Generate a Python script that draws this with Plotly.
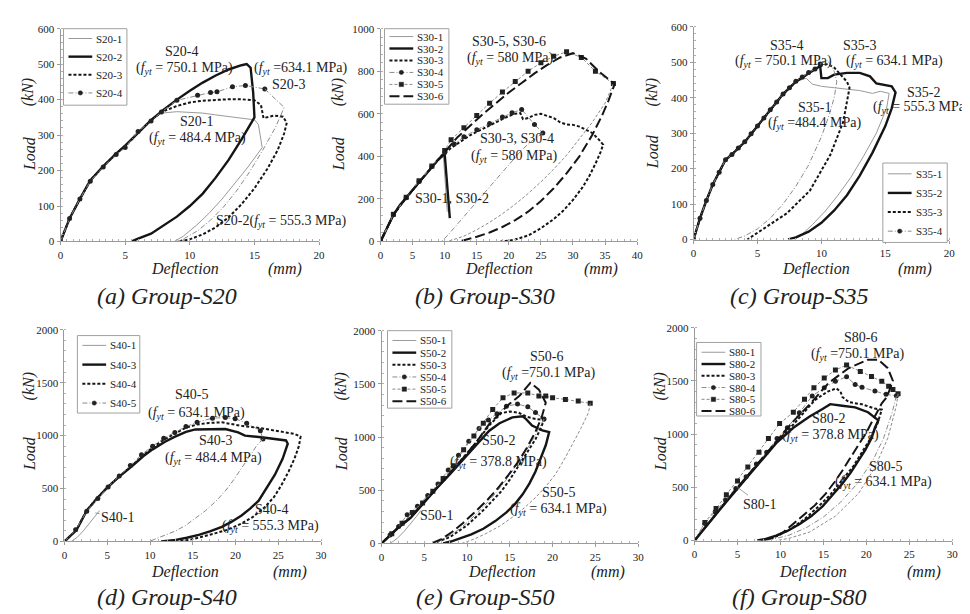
import plotly.graph_objects as go

# ======================= DATA =======================
# ---- (a) Group-S20 ----
S20_1_x = [0, 0.7, 1.5, 2.3, 3.3, 4.3, 5, 6, 7, 7.8, 9, 10, 11, 12, 13, 14, 15, 15.3, 15.6, 14.5, 13.5, 12.5, 11.5, 10.5, 9.5, 8.8]
S20_1_y = [0, 65, 120, 172, 212, 247, 268, 307, 342, 362, 366, 365, 362, 357, 352, 347, 343, 330, 265, 210, 165, 120, 80, 45, 15, 0]
S20_2_x = [0, 0.7, 1.5, 2.3, 3.3, 4.3, 5, 6, 7, 8, 9, 10, 11, 12, 13, 14, 14.4, 14.7, 14.9, 15.0, 14.5, 14, 13, 12, 11, 10, 9, 8, 7, 6, 5.5]
S20_2_y = [0, 65, 120, 172, 212, 248, 270, 307, 342, 372, 400, 425, 448, 468, 485, 497, 500, 490, 420, 350, 318, 288, 230, 180, 135, 100, 70, 45, 22, 8, 0]
S20_3_x = [0, 0.7, 1.5, 2.3, 3.3, 4.3, 5, 6, 7, 7.8, 9, 10, 11, 12, 13, 14, 15, 15.5, 15.7, 16.5, 17.2, 17.5, 17.3, 16.8, 16, 15, 14, 13, 12, 11, 10, 9.2]
S20_3_y = [0, 65, 120, 172, 212, 247, 268, 307, 342, 365, 382, 392, 397, 400, 401, 401, 398, 385, 348, 355, 352, 335, 305, 258, 205, 150, 105, 68, 40, 20, 6, 0]
S20_4_x = [0, 0.7, 1.5, 2.3, 3.3, 4.3, 5, 6, 7, 7.8, 9, 10.6, 11.6, 12.1, 13.3, 14.3, 15.8]
S20_4_y = [0, 65, 120, 170, 210, 245, 265, 310, 340, 365, 398, 412, 420, 422, 436, 440, 430]
S20_4_unload_x = [15.8, 16.7, 17.3, 16.6, 15.6, 14.6, 13.6, 12.6, 11.6, 10.6, 9.6, 9.0]
S20_4_unload_y = [430, 400, 378, 320, 255, 195, 142, 97, 60, 30, 9, 0]

# ---- (b) Group-S30 ----
S30_1_x = [0, 1, 2, 3, 4, 5, 6, 7, 8, 9, 9.8, 10.1, 10.4]
S30_1_y = [0, 65, 125, 168, 203, 243, 278, 313, 348, 382, 400, 290, 140]
S30_2_x = [0, 1, 2, 3, 4, 5, 6, 7, 8, 9, 10, 10.8]
S30_2_y = [0, 65, 125, 170, 205, 245, 280, 315, 350, 385, 412, 110]
S30_3_x = [0, 2, 4, 6, 8, 10, 11, 12, 13, 14, 15, 16, 17, 18, 19, 20, 21, 21.8, 22.2, 23, 24, 25, 26, 27, 28, 29, 30, 31, 32, 33, 34, 34.7,
           34.3, 33.5, 32.5, 31.5, 30, 28.5, 27, 25, 23, 21, 19.5, 18.7]
S30_3_y = [0, 125, 205, 280, 350, 415, 440, 460, 480, 500, 515, 530, 545, 560, 575, 590, 600, 603, 575, 580, 595, 600, 590, 580, 560, 550, 548, 540, 525, 510, 480, 455,
           420, 365, 305, 255, 195, 145, 105, 62, 28, 9, 2, 0]
S30_4_x = [0, 2, 4, 6, 8, 10, 11.5, 13, 15, 17, 19, 20.5, 22, 24, 25.3]
S30_4_y = [0, 125, 205, 282, 352, 418, 458, 492, 525, 555, 585, 605, 620, 550, 510]
S30_4_unload_x = [25.3, 23.5, 22, 20, 18, 16, 14, 12, 10.5, 9.5]
S30_4_unload_y = [510, 470, 430, 360, 290, 220, 150, 80, 30, 0]
S30_5_x = [0, 2, 4, 6, 8, 10, 11, 13, 15, 17, 19, 21, 23, 25, 27, 29, 31.3, 33.5, 36.3]
S30_5_y = [0, 128, 208, 285, 355, 428, 478, 535, 592, 650, 702, 752, 800, 840, 870, 892, 865, 800, 742]
S30_5_unload_x = [36.3, 35, 33, 31, 29, 27, 25, 23, 21, 19, 17, 15, 13, 11, 10.3]
S30_5_unload_y = [742, 650, 560, 480, 405, 340, 280, 225, 175, 130, 90, 55, 25, 5, 0]
S30_6_x = [0, 2, 4, 6, 8, 10, 12, 14, 16, 18, 20, 22, 24, 26, 28, 30, 32, 34, 36.5,
           35.5, 34.5, 33, 31, 29, 27, 25, 23, 21, 19, 17, 15, 13, 12]
S30_6_y = [0, 125, 205, 280, 350, 420, 490, 545, 600, 650, 700, 745, 790, 830, 865, 885, 860, 800, 740,
           660, 590, 500, 400, 320, 250, 190, 140, 100, 68, 42, 22, 6, 0]

# ---- (c) Group-S35 ----
S35_1_x = [0, 0.5, 1, 1.5, 2, 2.5, 3, 4, 5, 6, 7, 8, 8.8, 9.3, 10, 11, 12, 13, 14, 14.6, 15.3,
           15.1, 14.3, 13.3, 12.3, 11.3, 10.3, 9.3, 8.4, 7.9]
S35_1_y = [0, 60, 110, 155, 190, 225, 240, 275, 320, 365, 410, 445, 455, 438, 432, 428, 425, 420, 412, 418, 412,
           370, 300, 235, 175, 125, 80, 42, 12, 0]
S35_2_x = [0, 0.5, 1, 1.5, 2, 2.5, 3, 4, 5, 6, 7, 8, 9, 9.5, 9.9, 10, 10.5, 11, 12, 13, 13.8, 14.3, 15, 15.5, 15.8,
           15.5, 15, 14, 13, 12, 11, 10, 9, 8, 7.4]
S35_2_y = [0, 60, 110, 155, 190, 225, 240, 275, 320, 365, 410, 445, 470, 480, 490, 455, 455, 465, 470, 470, 460, 440, 435, 432, 415,
           370, 320, 245, 180, 125, 82, 47, 22, 6, 0]
S35_3_x = [0, 0.5, 1, 1.5, 2, 2.5, 3, 4, 5, 6, 7, 8, 9, 9.5, 10, 10.5, 11, 11.5, 12, 12.2,
           11.7, 10.7, 9.1, 7.3, 5.75, 4.2]
S35_3_y = [0, 60, 110, 155, 190, 225, 240, 275, 320, 365, 410, 445, 470, 480, 490, 495, 485, 465, 445, 428,
           331, 239, 138, 74, 37, 0]
S35_4_x = [0, 0.5, 1, 1.5, 2, 2.5, 3, 3.5, 4, 4.5, 5, 5.5, 6, 6.5, 7, 7.5, 8, 8.5, 9, 9.5, 9.9]
S35_4_y = [0, 60, 110, 155, 190, 225, 240, 258, 276, 298, 320, 343, 366, 388, 410, 428, 446, 458, 471, 481, 495]
S35_4_unload_x = [9.9, 10.5, 11, 11.2, 11, 10.6, 10, 9, 8, 7, 6, 5, 4, 3.2]
S35_4_unload_y = [495, 505, 475, 445, 400, 350, 290, 210, 150, 100, 60, 30, 10, 0]

# ---- (d) Group-S40 ----
S40_1_x = [0.8, 1.5, 2.2, 2.9, 3.5, 4.1]
S40_1_y = [0, 40, 100, 170, 230, 292]
S40_3_x = [0, 1.4, 2.6, 3.9, 5, 6.4, 7.8, 9.2, 10.3, 11.7, 12.8, 14.2, 15.3, 16.9, 18.8, 20.3, 21.1, 23, 24.6, 25.9, 26.1,
           25.5, 24.6, 23.6, 22.7, 21.7, 20.7, 19.5, 18.4, 17, 15.7, 14.3, 13, 11.3]
S40_3_y = [0, 108, 292, 415, 508, 612, 705, 805, 870, 940, 985, 1035, 1058, 1062, 1062, 1031, 1000, 985, 970, 954, 923,
           780, 631, 500, 385, 310, 246, 185, 138, 95, 62, 35, 15, 0]
S40_4_x = [0, 1.4, 2.6, 3.9, 5, 6.4, 7.8, 9.2, 10.3, 11.7, 12.8, 14.2, 15.5, 16.9, 18.4, 20.7, 23, 24.6, 26.9, 27.6,
           27.4, 26.9, 26.2, 25.4, 24.5, 23.4, 22, 20.7, 19, 17.6, 16, 14.6, 13]
S40_4_y = [0, 110, 295, 418, 510, 616, 710, 815, 890, 965, 1012, 1075, 1105, 1120, 1125, 1092, 1070, 1050, 1015, 990,
           900, 785, 660, 538, 420, 323, 230, 169, 110, 77, 40, 15, 0]
S40_5_x = [0, 1.3, 2.6, 3.9, 5.1, 6.4, 7.7, 9, 10.3, 11.6, 12.9, 14.2, 15.5, 17.3, 18.8, 19.95, 21.3, 22.9, 23.2]
S40_5_y = [0, 110, 285, 405, 515, 618, 718, 820, 900, 975, 1030, 1085, 1125, 1165, 1170, 1160, 1117, 1046, 969]
S40_5_unload_x = [23.2, 22.5, 21.6, 20.7, 19.8, 18.8, 17.7, 16.5, 15.3, 14.2, 13, 11.9, 10.9, 9.9]
S40_5_unload_y = [969, 908, 800, 692, 585, 477, 380, 292, 220, 154, 100, 62, 28, 0]

# ---- (e) Group-S50 ----
S50_1_x = [1, 1.8, 2.6, 3.4, 4.1, 4.6]
S50_1_y = [0, 45, 110, 185, 255, 310]
S50_2_x = [0, 2, 3.4, 4.9, 6.4, 8, 9.5, 11, 12.6, 13.8, 15.3, 16.5, 16.9, 17.6, 18.8, 19.6,
           19.2, 18.6, 18, 17.3, 16.5, 15.6, 14.6, 13.3, 11.9, 10.5, 9.2, 8.1, 7.2]
S50_2_y = [0, 150, 240, 378, 515, 650, 780, 920, 1060, 1130, 1185, 1195, 1169, 1108, 1062, 1046,
           923, 800, 677, 565, 462, 370, 292, 210, 138, 85, 46, 18, 0]
S50_3_x = [0, 2, 3.4, 4.9, 6.4, 8, 9.5, 11.1, 12.6, 14, 15, 16, 17, 18, 19,
           18.6, 18, 17, 16, 15, 14, 12, 10, 8, 6]
S50_3_y = [0, 154, 246, 385, 523, 662, 800, 954, 1110, 1225, 1240, 1230, 1190, 1170, 1160,
           1080, 980, 850, 720, 600, 490, 320, 170, 60, 0]
S50_4_x = [0, 1, 2, 3, 4.2, 5.4, 6.6, 7.8, 9, 10.2, 11.4, 12.5, 13.5, 14.6, 15.9, 17.1, 18, 19]
S50_4_y = [0, 80, 160, 270, 350, 450, 560, 690, 830, 960, 1080, 1160, 1220, 1290, 1310, 1285, 1230, 1169]
S50_4_unload_x = [19, 18.3, 17.5, 16.5, 15.5, 14.5, 13, 11.5, 10, 8.5, 7, 6.2]
S50_4_unload_y = [1169, 1060, 950, 820, 700, 590, 440, 310, 195, 100, 30, 0]
S50_5_x = [0, 1.2, 2.4, 3.6, 4.8, 6, 7.2, 8.4, 9.6, 10.8, 11.9, 13, 14.2, 15.5, 17.1, 18.4, 19.2, 20, 21.5, 23, 24.4]
S50_5_y = [0, 90, 190, 290, 380, 490, 610, 730, 880, 1010, 1130, 1260, 1369, 1415, 1415, 1385, 1385, 1369, 1354, 1338, 1317]
S50_5_unload_x = [24.4, 24.2, 23.3, 22.3, 21.3, 20.3, 19.2, 18, 16.7, 15.3, 13.8, 12.2, 10.8, 9.4]
S50_5_unload_y = [1317, 1230, 1080, 923, 780, 646, 535, 431, 335, 246, 162, 92, 40, 0]
S50_6_x = [0, 2, 3.4, 4.9, 6.4, 8, 9.5, 11.1, 12.6, 13.8, 14.9, 16.1, 17.4, 18.4, 19.2,
           18.7, 18, 17, 15.9, 14.8, 13.8, 12.5, 11, 9.5, 8.2, 7, 5.8]
S50_6_y = [0, 154, 246, 385, 523, 662, 800, 954, 1123, 1215, 1308, 1385, 1510, 1446, 1323,
           1180, 1050, 900, 760, 640, 538, 420, 300, 190, 105, 40, 0]

# ---- (f) Group-S80 ----
S80_1_x = [0, 1, 1.9, 2.9, 3.8, 4.8, 5.2]
S80_1_y = [0, 110, 198, 290, 382, 475, 520]
S80_2_x = [0, 1.9, 3.8, 5.7, 7.6, 9.5, 11.5, 13.4, 14.9, 15.8, 17.2, 18.7, 20.2, 21, 21.4,
           21, 20.6, 19.9, 19.1, 18.2, 17.2, 16, 14.9, 13.6, 12.2, 10.8, 9.5, 8.3, 7.3]
S80_2_y = [0, 190, 375, 555, 735, 915, 1060, 1165, 1237, 1282, 1267, 1252, 1206, 1150, 1130,
           1060, 962, 855, 748, 640, 534, 420, 321, 230, 153, 90, 46, 15, 0]
S80_3_x = [0, 1.9, 3.8, 5.7, 7.6, 9.5, 11.5, 13, 14, 15.5, 16.5, 17, 17.2, 18, 19.5, 21, 21.8,
           21.3, 20.5, 19.5, 18.5, 17.2, 15.8, 14.3, 12.8, 11.2, 9.7, 8.5, 7.7]
S80_3_y = [0, 195, 380, 560, 745, 925, 1090, 1225, 1320, 1400, 1430, 1400, 1350, 1300, 1280, 1240, 1230,
           1100, 960, 830, 700, 570, 430, 310, 200, 110, 45, 12, 0]
S80_4_x = [0, 1.2, 2.4, 3.6, 4.8, 6, 7.2, 8.4, 9.6, 10.8, 12.2, 13.7, 15.1, 16.4, 17.7, 18.7, 19.5, 21, 22.3, 23.5]
S80_4_y = [0, 160, 270, 380, 490, 600, 720, 830, 960, 1060, 1200, 1359, 1435, 1496, 1540, 1466, 1440, 1405, 1374, 1360]
S80_4_unload_x = [23.5, 23, 22, 20.8, 19, 17, 15, 13, 11, 9, 8]
S80_4_unload_y = [1360, 1200, 960, 760, 540, 360, 220, 120, 50, 10, 0]
S80_5_x = [0, 1.2, 2.5, 3.7, 5, 6.2, 7.5, 8.6, 9.9, 11.5, 12.8, 13.9, 15.1, 16.4, 17.7, 19.3, 20.6, 21.8, 22.6, 23.1, 23.7]
S80_5_y = [0, 170, 300, 430, 560, 690, 830, 960, 1099, 1206, 1328, 1435, 1527, 1603, 1649, 1588, 1542, 1496, 1450, 1420, 1380]
S80_5_unload_x = [23.7, 23.5, 22.5, 21, 19.1, 16.4, 13.4, 11, 9.5]
S80_5_unload_y = [1380, 1267, 962, 687, 443, 229, 80, 20, 0]
S80_6_x = [0, 1.9, 3.8, 5.7, 7.6, 9.5, 11.5, 13.4, 15.6, 17.9, 20.2, 21.4, 22.5, 23.1, 22.7, 22.4, 21.8,
           21.2, 20.6, 19.9, 19.1, 18.2, 17.2, 16.3, 15.3, 14, 12.6, 11.4, 10.3, 9.1, 8]
S80_6_y = [0, 195, 380, 565, 750, 935, 1120, 1280, 1480, 1618, 1700, 1700, 1620, 1500, 1410, 1350, 1290,
           1200, 1114, 1000, 901, 780, 656, 550, 443, 330, 229, 150, 76, 25, 0]

# ======================= STYLE =======================
SERIF = "Liberation Serif"
INK = "#222"
FYT = "<i>f</i><sub><i>yt</i></sub>"
STYLES = {
    "thin": dict(line=dict(color="#9a9a9a", width=1)),
    "thick": dict(line=dict(color="#151515", width=2.4)),
    "dashed": dict(line=dict(color="#151515", width=2, dash="3px,2px")),
    "dotcircle": dict(line=dict(color="#8a8a8a", width=1, dash="5px,2px,1px,2px"),
                      marker=dict(symbol="circle", size=5, color="#222")),
    "dotsquare": dict(line=dict(color="#8a8a8a", width=1, dash="3px,2px"),
                      marker=dict(symbol="square", size=5, color="#222")),
    "longdash": dict(line=dict(color="#151515", width=2, dash="10px,4px")),
}

W, H = 970, 614
def px(xp):
    return xp / W
def py(yp):
    return 1 - yp / H

panels = [
    dict(xa="x", ya="y", xr=[0, 20], yr=[0, 600], ydt=100, ymin=20, xmin=0.5,
         xd=[px(50), px(311)], yd=[py(232), py(15)],
         series=[("S20-1", S20_1_x, S20_1_y, "thin", None, None),
                 ("S20-2", S20_2_x, S20_2_y, "thick", None, None),
                 ("S20-3", S20_3_x, S20_3_y, "dashed", None, None),
                 ("S20-4", S20_4_x, S20_4_y, "dotcircle", S20_4_unload_x, S20_4_unload_y)],
         notes=[("S20-4", 9.35, 536, "center"),
                (f"({FYT} = 750.1 MPa)", 9.6, 489, "center"),
                (f"({FYT} =634.1 MPa)", 14.8, 489, "left"),
                ("S20-3", 17.6, 442, "center"),
                ("S20-1", 10.5, 337, "center"),
                (f"({FYT} = 484.4 MPa)", 10.6, 290, "center"),
                (f"S20-2({FYT} = 555.3 MPa)", 11.9, 55, "left")],
         legbox=(53, 15, 117, 93), legy0=25, legdy=18.5),
    dict(xa="x2", ya="y2", xr=[0, 40], yr=[0, 1000], ydt=200, ymin=40, xmin=1,
         xd=[px(373), px(632)], yd=[py(232), py(15)],
         series=[("S30-1", S30_1_x, S30_1_y, "thin", None, None),
                 ("S30-2", S30_2_x, S30_2_y, "thick", None, None),
                 ("S30-3", S30_3_x, S30_3_y, "dashed", None, None),
                 ("S30-4", S30_4_x, S30_4_y, "dotcircle", S30_4_unload_x, S30_4_unload_y),
                 ("S30-5", S30_5_x, S30_5_y, "dotsquare", S30_5_unload_x, S30_5_unload_y),
                 ("S30-6", S30_6_x, S30_6_y, "longdash", None, None)],
         notes=[("S30-5, S30-6", 20.1, 940, "center"),
                (f"({FYT} = 580 MPa)", 20.2, 862, "center"),
                ("S30-3, S30-4", 21.2, 484, "center"),
                (f"({FYT} = 580 MPa)", 20.8, 401, "center"),
                ("S30-1, S30-2", 11.1, 203, "center")],
         legbox=(377, 15, 442, 92), legy0=23, legdy=12.2),
    dict(xa="x3", ya="y3", xr=[0, 20], yr=[0, 600], ydt=100, ymin=20, xmin=0.5,
         xd=[px(689), px(947)], yd=[py(230), py(13)],
         series=[("S35-1", S35_1_x, S35_1_y, "thin", None, None),
                 ("S35-2", S35_2_x, S35_2_y, "thick", None, None),
                 ("S35-3", S35_3_x, S35_3_y, "dashed", None, None),
                 ("S35-4", S35_4_x, S35_4_y, "dotcircle", S35_4_unload_x, S35_4_unload_y)],
         notes=[("S35-4", 7.3, 547, "center"),
                (f"({FYT} = 750.1 MPa)", 7.05, 503, "center"),
                ("S35-3", 13.0, 547, "center"),
                (f"({FYT} = 634.1 MPa)", 15.7, 503, "center"),
                ("S35-2", 18.0, 415, "center"),
                (f"({FYT} = 555.3 MPa)", 17.8, 373, "center"),
                ("S35-1", 9.46, 373, "center"),
                (f"({FYT} =484.4 MPa)", 9.46, 326, "center")],
         legbox=(880, 152, 945, 233), legy0=163, legdy=19.5),
    dict(xa="x4", ya="y4", xr=[0, 30], yr=[0, 2000], ydt=500, ymin=100, xmin=1,
         xd=[px(54), px(313)], yd=[py(538), py(322)],
         series=[("S40-1", S40_1_x, S40_1_y, "thin", None, None),
                 ("S40-3", S40_3_x, S40_3_y, "thick", None, None),
                 ("S40-4", S40_4_x, S40_4_y, "dashed", None, None),
                 ("S40-5", S40_5_x, S40_5_y, "dotcircle", S40_5_unload_x, S40_5_unload_y)],
         notes=[("S40-5", 14.9, 1389, "center"),
                (f"({FYT} = 634.1 MPa)", 15.4, 1213, "center"),
                ("S40-3", 17.6, 954, "center"),
                (f"({FYT} = 484.4 MPa)", 17.4, 787, "center"),
                ("S40-4", 24.2, 306, "center"),
                (f"({FYT} = 555.3 MPa)", 24.1, 139, "center")],
         arrow=("S40-1", 3.6, 270, 6.2, 231),
         legbox=(67, 328, 130, 407), legy0=338, legdy=19.6),
    dict(xa="x5", ya="y5", xr=[0, 30], yr=[0, 2000], ydt=500, ymin=100, xmin=1,
         xd=[px(374), px(633)], yd=[py(540), py(323)],
         series=[("S50-1", S50_1_x, S50_1_y, "thin", None, None),
                 ("S50-2", S50_2_x, S50_2_y, "thick", None, None),
                 ("S50-3", S50_3_x, S50_3_y, "dashed", None, None),
                 ("S50-4", S50_4_x, S50_4_y, "dotcircle", S50_4_unload_x, S50_4_unload_y),
                 ("S50-5", S50_5_x, S50_5_y, "dotsquare", S50_5_unload_x, S50_5_unload_y),
                 ("S50-6", S50_6_x, S50_6_y, "longdash", None, None)],
         notes=[("S50-6", 19.3, 1760, "center"),
                (f"({FYT} =750.1 MPa)", 19.5, 1594, "center"),
                ("S50-2", 13.7, 968, "center"),
                (f"({FYT} = 378.8 MPa)", 13.7, 765, "center"),
                ("S50-5", 20.7, 479, "center"),
                (f"({FYT} = 634.1 MPa)", 20.7, 323, "center")],
         arrow=("S50-1", 4.3, 290, 6.4, 258),
         legbox=(380, 323, 445, 402), legy0=333, legdy=12.4),
    dict(xa="x6", ya="y6", xr=[0, 30], yr=[0, 2000], ydt=500, ymin=100, xmin=1,
         xd=[px(690), px(950)], yd=[py(537), py(320)],
         series=[("S80-1", S80_1_x, S80_1_y, "thin", None, None),
                 ("S80-2", S80_2_x, S80_2_y, "thick", None, None),
                 ("S80-3", S80_3_x, S80_3_y, "dashed", None, None),
                 ("S80-4", S80_4_x, S80_4_y, "dotcircle", S80_4_unload_x, S80_4_unload_y),
                 ("S80-5", S80_5_x, S80_5_y, "dotsquare", S80_5_unload_x, S80_5_unload_y),
                 ("S80-6", S80_6_x, S80_6_y, "longdash", None, None)],
         notes=[("S80-6", 19.3, 1908, "center"),
                (f"({FYT} =750.1 MPa)", 19.0, 1751, "center"),
                ("S80-2", 15.6, 1143, "center"),
                (f"({FYT} = 378.8 MPa)", 15.8, 986, "center"),
                ("S80-5", 22.2, 691, "center"),
                (f"({FYT} = 634.1 MPa)", 22.0, 544, "center")],
         arrow=("S80-1", 5.0, 500, 7.6, 341),
         legbox=(692, 335, 757, 410), legy0=345, legdy=12.0),
]

# axis-title / caption positions (pixels)
YTITLES = [(18, 80, 142), (330, 80, 142), (647, 80, 140), (18, 380, 448), (333, 380, 448), (655, 380, 448)]
XTITLES = [(176, 277, 260), (493, 596, 260), (813, 912, 260), (176, 282, 569), (496, 603, 569), (810, 922, 569)]
CAPTIONS = [("(a) Group-S20", 157, 288), ("(b) Group-S30", 478, 288), ("(c) Group-S35", 795, 288),
            ("(d) Group-S40", 157, 595), ("(e) Group-S50", 478, 595), ("(f) Group-S80", 795, 595)]

fig = go.Figure()
layout = dict(width=W, height=H, margin=dict(l=0, r=0, t=0, b=0),
              paper_bgcolor="white", plot_bgcolor="white", showlegend=False,
              font=dict(family=SERIF, size=11, color=INK))
annotations = []
shapes = []


def paper_text(text, xp, yp, size, angle=0, anchor="center"):
    return dict(text=text, x=px(xp), y=py(yp), xref="paper", yref="paper", xanchor=anchor,
                yanchor="middle", textangle=angle, showarrow=False,
                font=dict(family=SERIF, size=size, color=INK))


for p in panels:
    for name, xs, ys, st, ux, uy in p["series"]:
        s = STYLES[st]
        mode = "lines+markers" if "marker" in s else "lines"
        fig.add_trace(go.Scatter(x=xs, y=ys, name=name, mode=mode, xaxis=p["xa"], yaxis=p["ya"],
                                 hoverinfo="skip", **s))
        if ux is not None:
            fig.add_trace(go.Scatter(x=ux, y=uy, name=name + " unloading", mode="lines",
                                     xaxis=p["xa"], yaxis=p["ya"], hoverinfo="skip", line=s["line"]))
    xkey = "xaxis" + p["xa"][1:]
    ykey = "yaxis" + p["ya"][1:]
    common = dict(showgrid=False, zeroline=False, showline=True, linecolor="#9a9a9a", linewidth=1,
                  ticks="outside", ticklen=3, tickcolor="#9a9a9a", tick0=0, fixedrange=True,
                  tickfont=dict(family=SERIF, size=11, color=INK))
    layout[xkey] = dict(range=p["xr"], domain=p["xd"], anchor=p["ya"], dtick=5,
                        minor=dict(ticks="inside", ticklen=2, tickcolor="#b0b0b0", dtick=p["xmin"]),
                        **common)
    layout[ykey] = dict(range=p["yr"], domain=p["yd"], anchor=p["xa"], dtick=p["ydt"],
                        minor=dict(ticks="inside", ticklen=2, tickcolor="#b0b0b0", dtick=p["ymin"]),
                        **common)

    # ---- compact legend box (drawn as layout decoration) ----
    L, T, R, B = p["legbox"]
    shapes.append(dict(type="rect", xref="paper", yref="paper", x0=px(L), x1=px(R), y0=py(B), y1=py(T),
                       line=dict(color="#a0a0a0", width=1), fillcolor="white", layer="above"))
    for i, (name, xs, ys, st, ux, uy) in enumerate(p["series"]):
        s = STYLES[st]
        yy = p["legy0"] + i * p["legdy"]
        shapes.append(dict(type="line", xref="paper", yref="paper", x0=px(L + 5), x1=px(L + 29),
                           y0=py(yy), y1=py(yy), line=s["line"], layer="above"))
        if "marker" in s:
            cx = L + 17
            kind = "circle" if s["marker"]["symbol"] == "circle" else "rect"
            shapes.append(dict(type=kind, xref="paper", yref="paper", x0=px(cx - 2.2), x1=px(cx + 2.2),
                               y0=py(yy + 2.2), y1=py(yy - 2.2), fillcolor="#222",
                               line=dict(color="#222", width=0.5), layer="above"))
        annotations.append(dict(text=name, x=px(L + 31), y=py(yy), xref="paper", yref="paper",
                                xanchor="left", yanchor="middle", showarrow=False,
                                font=dict(family=SERIF, size=11, color=INK)))

    for text, x, y, anc in p["notes"]:
        annotations.append(dict(text=text, x=x, y=y, xref=p["xa"], yref=p["ya"], xanchor=anc,
                                yanchor="middle", showarrow=False,
                                font=dict(family=SERIF, size=14, color=INK)))
    if "arrow" in p:
        text, hx, hy, tx, ty = p["arrow"]
        annotations.append(dict(text=text, x=hx, y=hy, ax=tx, ay=ty, xref=p["xa"], yref=p["ya"],
                                axref=p["xa"], ayref=p["ya"], showarrow=True, arrowhead=0,
                                arrowwidth=0.8, arrowcolor="#888",
                                font=dict(family=SERIF, size=14, color=INK)))

for (xp, ykn, yload) in YTITLES:
    annotations.append(paper_text("<i>(kN)</i>", xp, ykn, 16, angle=-90))
    annotations.append(paper_text("<i>Load</i>", xp, yload, 16, angle=-90))
for (xd, xm, yp) in XTITLES:
    annotations.append(paper_text("<i>Deflection</i>", xd, yp, 16))
    annotations.append(paper_text("<i>(mm)</i>", xm, yp, 16))
for (t, xp, yp) in CAPTIONS:
    annotations.append(paper_text(f"<i>{t}</i>", xp, yp, 24))

layout["annotations"] = annotations
layout["shapes"] = shapes
fig.update_layout(**layout)
fig.write_html("out.html")
